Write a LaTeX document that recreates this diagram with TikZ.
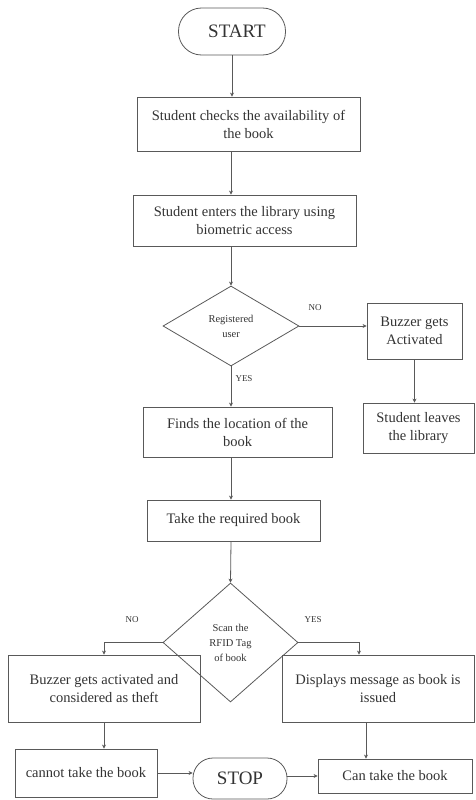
\documentclass[tikz,border=0pt]{standalone}
\usepackage{fontspec}
\setmainfont{Liberation Serif}
\usetikzlibrary{shapes.geometric,arrows.meta}
\begin{document}
\begin{tikzpicture}[x=1pt,y=-1pt,
  every node/.style={text=black!80},
  boxnode/.style={draw=black!65,line width=0.8pt,rectangle,inner sep=0pt,align=center,
    font=\fontsize{14.5}{18}\selectfont},
  termnode/.style={draw=black!65,line width=0.8pt,rectangle,inner sep=0pt,align=center,
    font=\fontsize{19}{22}\selectfont},
  decnode/.style={draw=black!65,line width=0.8pt,diamond,inner sep=0pt,align=center,
    font=\fontsize{10.5}{15}\selectfont},
  lbl/.style={font=\fontsize{9}{10}\selectfont,inner sep=0pt},
  flow/.style={draw=black!65,line width=0.8pt,-{Stealth[length=4pt,width=4pt]}}
]
\useasboundingbox (0,0) rectangle (475,800);
\coordinate (spine) at (231,0);
\coordinate (rspine) at (366,0);

\node[termnode,minimum width=107pt,minimum height=47pt,rounded corners=23pt] (start) at (232,31.5) {\hspace{10pt}START};
\node[boxnode,minimum width=223pt,minimum height=54pt] (b1) at (248.5,124) {Student checks the availability of\\the book};
\node[boxnode,minimum width=223pt,minimum height=51pt] (b2) at (244.5,220.5) {Student enters the library using\\biometric access};
\node[decnode,minimum width=136pt,minimum height=80pt] (d1) at (231,326) {Registered\\user};
\node[boxnode,minimum width=95pt,minimum height=56pt] (buz) at (414.5,331) {Buzzer gets\\Activated};
\node[boxnode,minimum width=111pt,minimum height=50pt] (leave) at (418.5,428) {Student leaves\\the library};
\node[boxnode,minimum width=189pt,minimum height=50pt] (finds) at (237.5,432) {Finds the location of the\\book};
\node[boxnode,minimum width=173pt,minimum height=41pt] (take) at (233.5,520.5) {Take the required book};
\node[decnode,minimum width=135pt,minimum height=119pt] (d2) at (230.5,642.5) {Scan the\\RFID Tag\\of book};
\node[boxnode,minimum width=192pt,minimum height=67pt] (lb) at (104,688.5) {Buzzer gets activated and\\considered as theft};
\node[boxnode,minimum width=192pt,minimum height=67pt] (rb) at (378,688.5) {Displays message as book is\\issued};
\node[boxnode,minimum width=142pt,minimum height=48pt] (cannot) at (86,773) {cannot take the book};
\node[termnode,minimum width=94pt,minimum height=41pt,rounded corners=20pt] (stop) at (240,778.5) {STOP};
\node[boxnode,minimum width=154pt,minimum height=34pt] (can) at (395,776) {Can take the book};

\node[lbl] (no1) at (315,308) {NO};
\node[lbl] (yes1) at (244,379) {YES};
\node[lbl] (no2) at (132,620) {NO};
\node[lbl] (yes2) at (313,620) {YES};

\draw[flow] (start.south) -- (start.south |- b1.north);
\draw[flow] (b1.south -| spine) -- (b2.north -| spine);
\draw[flow] (b2.south -| spine) -- (d1.north);
\draw[flow] (d1.east) -- (d1.east -| buz.west);
\draw[flow] (buz.south) -- (buz.south |- leave.north);
\draw[flow] (d1.south) -- (d1.south |- finds.north);
\draw[flow] (finds.south -| spine) -- (take.north -| spine);
\draw[flow] (take.south -| spine) -- (d2.north);
\draw[flow] (d2.west) -| (lb.north);
\draw[flow] (d2.east) -| ([xshift=-19pt]rb.north);
\draw[flow] (lb.south) -- (lb.south |- cannot.north);
\draw[flow] (rb.south -| rspine) -- (can.north -| rspine);
\draw[flow] (cannot.east) -- (cannot.east -| stop.west);
\draw[flow] (stop.east |- can.west) -- (can.west);
\end{tikzpicture}
\end{document}
